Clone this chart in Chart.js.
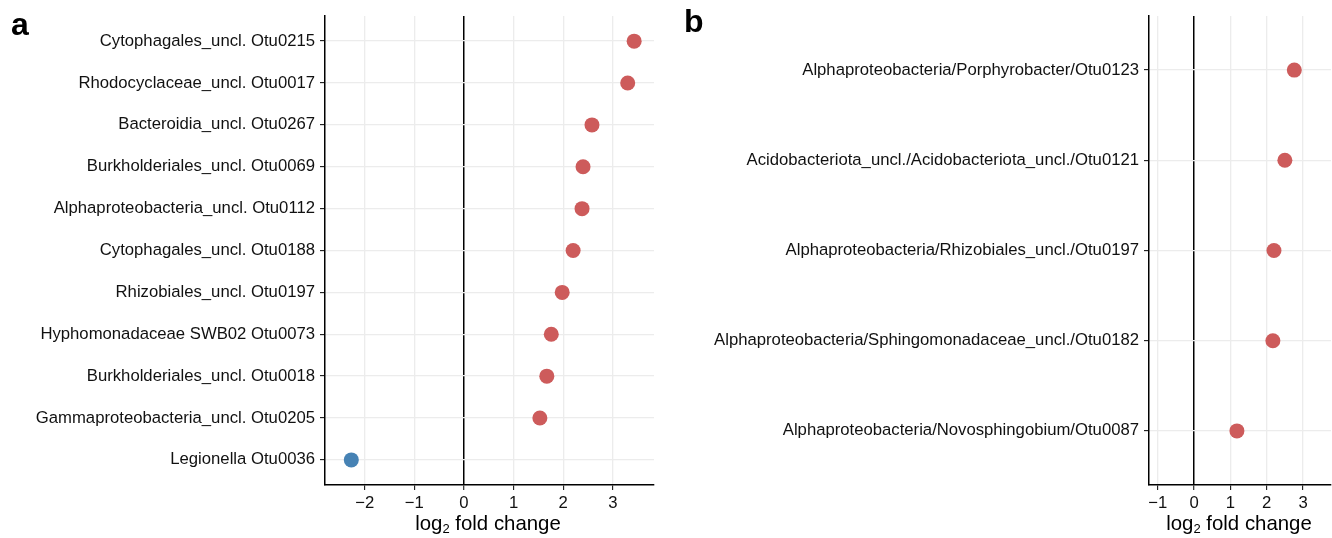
<!DOCTYPE html>
<html>
<head>
<meta charset="utf-8">
<script src="https://cdn.jsdelivr.net/npm/chart.js@4.4.1/dist/chart.umd.min.js"></script>
<style>
  html, body { margin:0; padding:0; background:#fff; }
  body { width:1332px; height:538px; position:relative; overflow:hidden; font-family:"Liberation Sans", Arial, Helvetica, sans-serif; }
  canvas { position:absolute; top:0; }
  .letter { position:absolute; font-weight:bold; font-size:32px; line-height:1; color:#000; }
  .xtitle { position:absolute; font-size:20.4px; line-height:1; color:#000; white-space:nowrap; transform:translateX(-50%); }
  .xtitle sub { font-size:13px; vertical-align:-3px; line-height:0; }
</style>
</head>
<body>
<canvas id="ca" width="670" height="538" style="left:0;width:670px;height:538px"></canvas>
<canvas id="cb" width="656" height="538" style="left:676px;width:656px;height:538px"></canvas>
<div class="letter" style="left:11px;top:8px">a</div>
<div class="letter" style="left:684px;top:5px">b</div>
<div class="xtitle" style="left:488px;top:513px">log<sub>2</sub> fold change</div>
<div class="xtitle" style="left:1239px;top:513px">log<sub>2</sub> fold change</div>
<script>
// ---- Data ----
const labelsA = [
  "Cytophagales_uncl. Otu0215",
  "Rhodocyclaceae_uncl. Otu0017",
  "Bacteroidia_uncl. Otu0267",
  "Burkholderiales_uncl. Otu0069",
  "Alphaproteobacteria_uncl. Otu0112",
  "Cytophagales_uncl. Otu0188",
  "Rhizobiales_uncl. Otu0197",
  "Hyphomonadaceae SWB02 Otu0073",
  "Burkholderiales_uncl. Otu0018",
  "Gammaproteobacteria_uncl. Otu0205",
  "Legionella Otu0036"
];
const valuesA = [3.43, 3.30, 2.58, 2.40, 2.38, 2.20, 1.98, 1.76, 1.67, 1.53, -2.27];
const xTicksA = [-2, -1, 0, 1, 2, 3];

const labelsB = [
  "Alphaproteobacteria/Porphyrobacter/Otu0123",
  "Acidobacteriota_uncl./Acidobacteriota_uncl./Otu0121",
  "Alphaproteobacteria/Rhizobiales_uncl./Otu0197",
  "Alphaproteobacteria/Sphingomonadaceae_uncl./Otu0182",
  "Alphaproteobacteria/Novosphingobium/Otu0087"
];
const valuesB = [2.76, 2.50, 2.20, 2.17, 1.18];
const xTicksB = [-1, 0, 1, 2, 3];

// ---- Styling ----
const RED = "#cd5b5b", BLUE = "#4682b4", GRID = "#ececec";
const FONT = { family: "'Liberation Sans', Arial, Helvetica, sans-serif", size: 16.7 };
const TXT = "#111";

function minusFmt(v) { return v < 0 ? "\u2212" + Math.abs(v) : String(v); }

function makeChart(id, labels, values, xTicks, xmin, xmax, yWidth, padRight) {
  const pts = values.map((v, i) => ({ x: v, y: i }));
  return new Chart(document.getElementById(id), {
    type: "scatter",
    data: { datasets: [{
      data: pts,
      pointRadius: 7.5,
      pointHoverRadius: 7.5,
      borderWidth: 0,
      clip: false,
      backgroundColor: values.map(v => v > 0 ? RED : BLUE)
    }]},
    options: {
      responsive: false,
      animation: false,
      devicePixelRatio: 1,
      layout: { autoPadding: false, padding: { top: 16, right: padRight, bottom: 0, left: 0 } },
      plugins: { legend: { display: false }, tooltip: { enabled: false } },
      scales: {
        x: {
          type: "linear", min: xmin, max: xmax,
          afterBuildTicks: s => { s.ticks = xTicks.map(v => ({ value: v })); },
          afterFit: s => { s.height = 53; s.paddingLeft = 0; s.paddingRight = 0; },
          ticks: { font: FONT, color: TXT, padding: 3, autoSkip: false, maxRotation: 0, callback: v => minusFmt(v) },
          grid: {
            color: c => (c.tick && c.tick.value === 0) ? "#000" : GRID,
            lineWidth: c => (c.tick && c.tick.value === 0) ? 1.5 : 1.3,
            tickColor: "#000", tickLength: 5, tickWidth: 1
          },
          border: { display: true, color: "#000", width: 1.5 }
        },
        y: {
          type: "linear", reverse: true, min: -0.6, max: labels.length - 0.4,
          afterBuildTicks: s => { s.ticks = labels.map((_, i) => ({ value: i })); },
          afterFit: s => { s.width = yWidth; },
          ticks: { font: FONT, color: TXT, padding: 5, autoSkip: false, callback: v => labels[v] },
          grid: { color: GRID, lineWidth: 1.3, tickColor: "#000", tickLength: 5, tickWidth: 1 },
          border: { display: true, color: "#000", width: 1.5 }
        }
      }
    }
  });
}

makeChart("ca", labelsA, valuesA, xTicksA, -2.8, 3.83, 325, 16);
makeChart("cb", labelsB, valuesB, xTicksB, -1.24, 3.77, 473, 1);
</script>
</body>
</html>
